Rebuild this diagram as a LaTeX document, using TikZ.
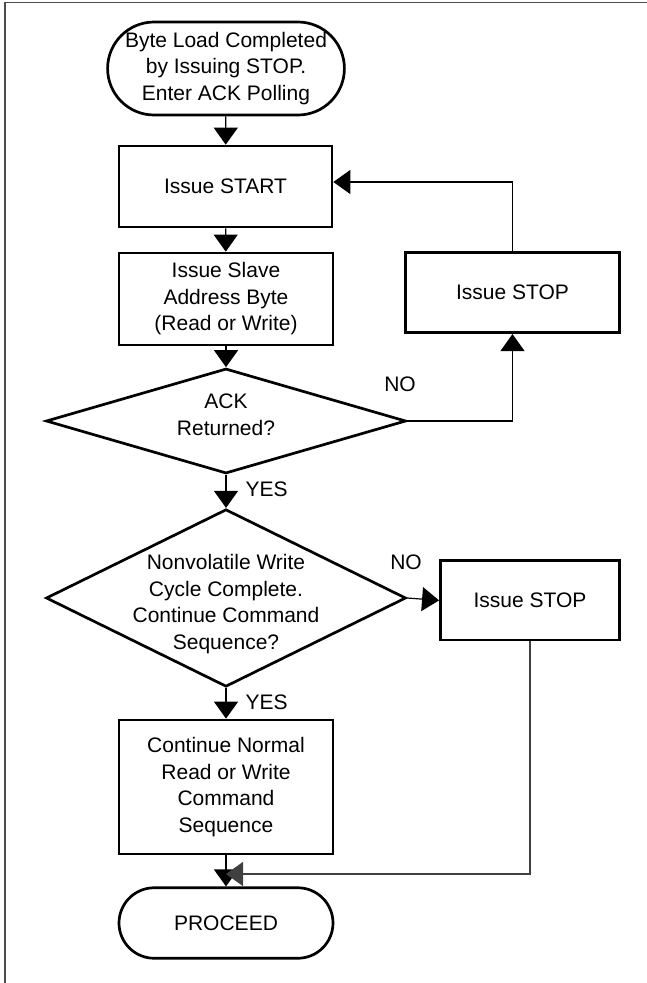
\documentclass[tikz,border=0pt]{standalone}
\usepackage{fontspec}
\setmainfont{Liberation Sans}
\usetikzlibrary{arrows.meta,shapes.geometric,shapes.misc}
\newcommand\fsz{\fontsize{21}{26.5}\selectfont}
\begin{document}
\begin{tikzpicture}[x=1pt,y=-1pt,
  box/.style={draw, rectangle, line width=2.7pt, inner sep=0pt, align=center, font=\fsz},
  term/.style={draw, rounded rectangle, line width=2.7pt, inner sep=0pt, align=center, font=\fsz},
  dia/.style={draw, diamond, line width=2.7pt, inner sep=0pt},
  txt/.style={align=center, font=\fsz, inner sep=0pt},
  arr/.style={line width=1.2pt, -{Triangle[length=17pt,width=24pt]}}]
\useasboundingbox (0,0) rectangle (647,983);
% frame
\draw[line width=1.4pt, black!70] (5,983) -- (5,2.7) -- (647,2.7);
% nodes
\node[term, minimum width=232pt, minimum height=93pt] (start) at (226,68.5)
  {Byte Load Completed\\by Issuing STOP.\\Enter ACK Polling};
\node[box, minimum width=213pt, minimum height=81pt] (istart) at (225.5,186.5) {Issue START};
\node[box, minimum width=214pt, minimum height=92pt] (slave) at (226,299)
  {Issue Slave\\Address Byte\\(Read or Write)};
\node[dia, minimum width=360pt, minimum height=105pt] (ack) at (226,421) {};
\node[txt] (acktxt) at (226,415) {ACK\\Returned?};
\node[dia, minimum width=360pt, minimum height=177.5pt] (nv) at (226,598) {};
\node[txt] (nvtxt) at (226,604) {Nonvolatile Write\\Cycle Complete.\\Continue Command\\Sequence?};
\node[box, minimum width=214pt, minimum height=134pt] (cont) at (226,787)
  {Continue Normal\\Read or Write\\Command\\Sequence};
\node[term, minimum width=214pt, minimum height=70.5pt] (proc) at (226,923) {PROCEED};
\node[box, minimum width=214.6pt, minimum height=80pt] (stop1) at (512.5,292.7) {Issue STOP};
\node[box, minimum width=179.2pt, minimum height=79.3pt] (stop2) at (530,600.4) {Issue STOP};
% labels
\node[txt] (no1) at (400,384) {NO};
\node[txt] (no2) at (406,562) {NO};
\node[txt] (yes1) at (266.7,489) {YES};
\node[txt] (yes2) at (266.7,702.7) {YES};
% connectors
\draw[arr] (start) -- (istart);
\draw[arr] (istart) -- (slave);
\draw[arr] (slave) -- (ack);
\draw[arr] (ack.east) -| (stop1.south);
\draw[arr] (stop1.north) |- ([yshift=4.5pt]istart.east);
\draw[arr] (ack.south) -- (nv.north);
\draw[arr] (nv.east) -- (stop2.west);
\draw[arr] (nv.south) -- (cont.north);
\draw[arr] (cont.south) -- (proc.north);
\coordinate (join) at (226,874);
\draw[arr, black!75] (stop2.south) |- (join);
\end{tikzpicture}
\end{document}
